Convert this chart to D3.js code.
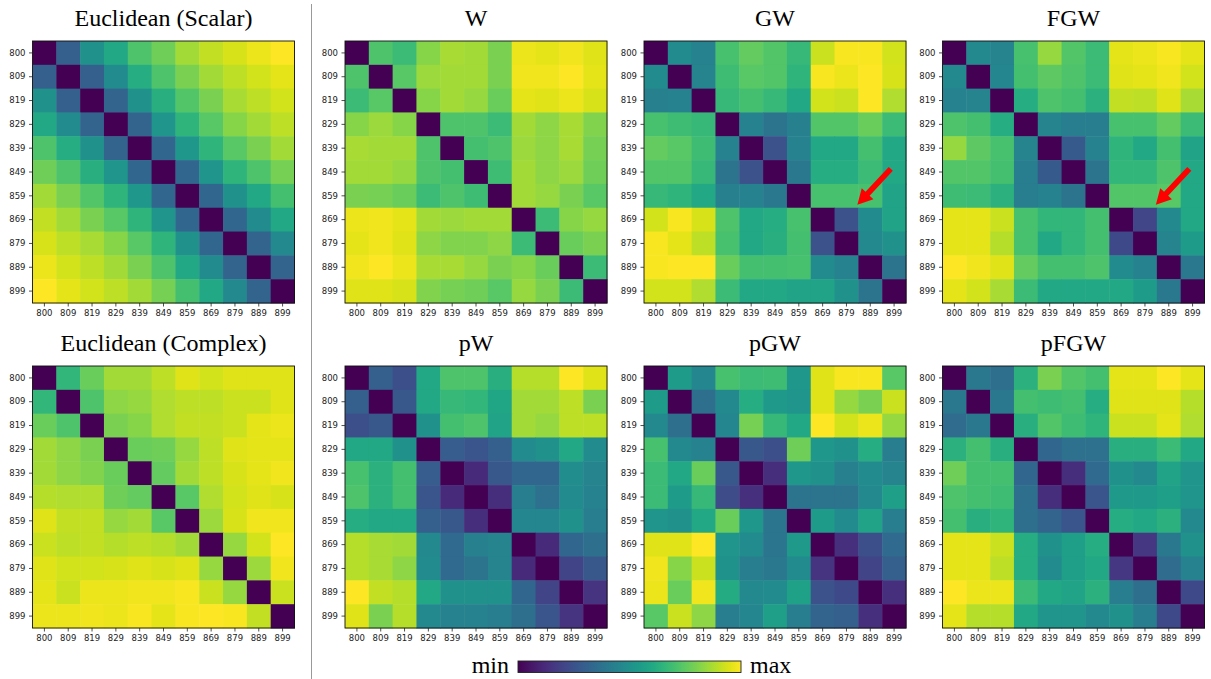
<!DOCTYPE html>
<html>
<head>
<meta charset="utf-8">
<script src="https://cdn.jsdelivr.net/npm/d3@7"></script>
<style>
  body { margin: 0; background: #fff; }
  svg { display: block; }
  .tick text { font-family: "DejaVu Sans", sans-serif; font-size: 8.5px; fill: #222; }
  .title { font-family: "Liberation Serif", "Times New Roman", serif; font-size: 24px; fill: #000; }
</style>
</head>
<body>
<div id="chart"></div>
<script>
// Pairwise distance matrices (frequencies 800..899), values read off the
// picture and normalised to 0..100 per panel (0 = min, 100 = max).
const labels = ["800", "809", "819", "829", "839", "849", "859", "869", "879", "889", "899"];

const eucScalar = [
  [0, 30, 50, 60, 72, 78, 86, 91, 94, 97, 100],
  [30, 0, 30, 48, 62, 72, 80, 86, 90, 93, 96],
  [50, 30, 0, 32, 50, 63, 73, 80, 87, 90, 93],
  [60, 48, 32, 0, 32, 52, 65, 74, 82, 86, 90],
  [72, 62, 50, 32, 0, 33, 53, 65, 74, 80, 86],
  [78, 72, 63, 52, 33, 0, 33, 52, 65, 72, 79],
  [86, 80, 73, 65, 53, 33, 0, 33, 50, 60, 70],
  [91, 86, 80, 74, 65, 52, 33, 0, 33, 48, 60],
  [94, 90, 87, 82, 74, 65, 50, 33, 0, 32, 47],
  [97, 93, 90, 86, 80, 72, 60, 48, 32, 0, 32],
  [100, 96, 93, 90, 86, 79, 70, 60, 47, 32, 0]
];

const distW = [
  [0, 72, 68, 82, 87, 86, 80, 97, 96, 98, 95],
  [72, 0, 74, 85, 86, 86, 80, 98, 98, 100, 96],
  [68, 74, 0, 82, 86, 84, 77, 96, 95, 97, 94],
  [82, 85, 82, 0, 72, 72, 68, 86, 83, 87, 81],
  [87, 86, 86, 72, 0, 70, 72, 85, 83, 87, 79],
  [86, 86, 84, 72, 70, 0, 69, 86, 83, 85, 78],
  [80, 79, 77, 68, 72, 69, 0, 86, 84, 80, 74],
  [97, 98, 96, 86, 85, 86, 86, 0, 68, 82, 84],
  [96, 98, 95, 83, 81, 81, 83, 68, 0, 77, 80],
  [98, 100, 97, 87, 87, 84, 80, 82, 77, 0, 68],
  [95, 95, 94, 81, 79, 78, 74, 84, 80, 68, 0]
];

const distGW = [
  [0, 48, 44, 71, 76, 73, 67, 92, 99, 99, 93],
  [48, 0, 45, 69, 74, 73, 65, 99, 97, 100, 94],
  [43, 44, 0, 67, 70, 67, 60, 93, 92, 100, 88],
  [71, 69, 67, 0, 44, 38, 43, 73, 73, 77, 68],
  [76, 74, 69, 44, 0, 25, 44, 60, 60, 70, 60],
  [73, 73, 67, 38, 25, 0, 40, 62, 62, 68, 60],
  [67, 65, 60, 43, 44, 40, 0, 71, 71, 71, 58],
  [93, 99, 94, 72, 60, 62, 71, 0, 25, 48, 58],
  [99, 96, 90, 71, 60, 63, 70, 25, 0, 47, 50],
  [99, 100, 100, 77, 70, 70, 71, 48, 44, 0, 38],
  [93, 93, 88, 68, 60, 60, 58, 58, 50, 38, 0]
];

const distFGW = [
  [0, 47, 45, 71, 84, 73, 68, 96, 97, 99, 96],
  [47, 0, 46, 70, 75, 72, 68, 95, 96, 98, 93],
  [44, 45, 0, 62, 72, 70, 64, 91, 90, 95, 87],
  [72, 70, 62, 0, 45, 42, 42, 71, 71, 76, 68],
  [84, 75, 71, 45, 0, 28, 44, 65, 60, 70, 58],
  [73, 73, 70, 42, 28, 0, 38, 66, 66, 72, 60],
  [69, 68, 64, 42, 44, 38, 0, 73, 73, 74, 60],
  [96, 96, 92, 71, 66, 66, 70, 0, 21, 47, 60],
  [96, 96, 89, 71, 60, 66, 70, 22, 0, 45, 55],
  [100, 98, 95, 76, 70, 70, 72, 48, 44, 0, 40],
  [96, 93, 87, 68, 60, 60, 60, 60, 55, 40, 0]
];

const eucComplex = [
  [0, 66, 77, 86, 86, 90, 95, 93, 95, 95, 95],
  [66, 0, 72, 83, 84, 88, 90, 90, 92, 92, 95],
  [77, 72, 0, 80, 82, 88, 91, 91, 92, 96, 97],
  [86, 83, 80, 0, 77, 78, 84, 90, 95, 96, 96],
  [86, 83, 81, 77, 0, 76, 86, 90, 94, 96, 98],
  [89, 88, 88, 78, 76, 0, 74, 88, 93, 95, 94],
  [95, 91, 91, 84, 86, 74, 0, 85, 94, 98, 98],
  [92, 90, 91, 89, 90, 89, 86, 0, 84, 93, 100],
  [95, 93, 93, 94, 95, 94, 95, 84, 0, 85, 98],
  [96, 92, 97, 97, 98, 98, 99, 92, 84, 0, 92],
  [97, 97, 98, 97, 99, 96, 99, 100, 99, 91, 0]
];

const distPW = [
  [0, 30, 24, 60, 72, 72, 63, 89, 89, 100, 95],
  [30, 0, 27, 60, 67, 66, 59, 86, 86, 90, 80],
  [24, 27, 0, 50, 70, 72, 58, 86, 84, 90, 90],
  [60, 60, 50, 0, 29, 26, 30, 48, 50, 60, 48],
  [71, 64, 70, 29, 0, 12, 27, 33, 33, 49, 45],
  [72, 64, 70, 26, 12, 0, 13, 42, 37, 48, 44],
  [62, 60, 60, 30, 27, 13, 0, 46, 46, 50, 42],
  [89, 87, 86, 47, 34, 43, 45, 0, 12, 33, 36],
  [89, 87, 83, 48, 34, 38, 45, 12, 0, 20, 27],
  [100, 91, 89, 60, 50, 50, 50, 33, 20, 0, 15],
  [95, 80, 89, 47, 44, 44, 42, 36, 26, 15, 0]
];

const distPGW = [
  [0, 55, 46, 71, 68, 69, 53, 95, 99, 99, 74],
  [55, 0, 36, 47, 62, 54, 52, 95, 84, 80, 92],
  [47, 36, 0, 46, 79, 67, 60, 100, 93, 97, 84],
  [71, 47, 44, 0, 27, 24, 78, 53, 50, 62, 42],
  [68, 60, 77, 27, 0, 13, 53, 50, 43, 48, 45],
  [68, 55, 67, 23, 14, 0, 38, 38, 38, 47, 56],
  [52, 50, 60, 77, 53, 39, 0, 55, 48, 58, 42],
  [95, 95, 100, 52, 48, 39, 54, 0, 14, 24, 34],
  [98, 82, 92, 51, 42, 40, 48, 15, 0, 20, 30],
  [97, 77, 98, 61, 47, 48, 57, 25, 22, 0, 14],
  [74, 92, 83, 42, 46, 56, 42, 32, 30, 14, 0]
];

const distPFGW = [
  [0, 40, 36, 64, 80, 73, 70, 96, 96, 100, 96],
  [40, 0, 40, 70, 69, 70, 62, 95, 95, 95, 89],
  [35, 40, 0, 63, 73, 69, 65, 92, 92, 96, 88],
  [64, 70, 63, 0, 33, 37, 37, 63, 63, 68, 60],
  [78, 70, 70, 33, 0, 13, 34, 50, 47, 58, 52],
  [72, 70, 69, 36, 13, 0, 26, 54, 54, 56, 52],
  [70, 63, 65, 36, 32, 26, 0, 62, 60, 64, 47],
  [96, 96, 92, 62, 50, 56, 62, 0, 16, 40, 50],
  [96, 96, 90, 62, 48, 56, 60, 16, 0, 35, 44],
  [100, 97, 97, 68, 60, 58, 64, 42, 36, 0, 22],
  [96, 89, 89, 60, 52, 52, 47, 50, 42, 22, 0]
];

const titles = ["Euclidean (Scalar)", "W", "GW", "FGW", "Euclidean (Complex)", "pW", "pGW", "pFGW"];
const matrices = [eucScalar, distW, distGW, distFGW, eucComplex, distPW, distPGW, distPFGW];
// panels that get the red arrow, pointing at the top-left corner of this cell
const arrowPanels = ["GW", "FGW"];
const arrowCell = { row: "869", col: "889" };

// layout
const width = 1211, height = 679;
const colX = [32.5, 345, 644, 942.5];
const rowY = [41, 366];
const size = 262;

const svg = d3.select("#chart").append("svg")
  .attr("width", width)
  .attr("height", height);

const x = d3.scaleBand().domain(labels).range([0, size]);
const y = d3.scaleBand().domain(labels).range([0, size]);

titles.forEach((title, k) => {
  const m = matrices[k];
  const g = svg.append("g")
    .attr("transform", `translate(${colX[k % 4]},${rowY[Math.floor(k / 4)]})`);

  const color = d3.scaleSequential(d3.interpolateViridis)
    .domain(d3.extent(m.flat()));

  const cells = [];
  m.forEach((row, i) => row.forEach((v, j) => cells.push({ r: labels[i], c: labels[j], v })));

  g.selectAll("rect.cell")
    .data(cells)
    .join("rect")
    .attr("class", "cell")
    .attr("x", d => x(d.c))
    .attr("y", d => y(d.r))
    .attr("width", x.bandwidth() + 0.5)
    .attr("height", y.bandwidth() + 0.5)
    .attr("fill", d => color(d.v));

  g.append("rect")
    .attr("width", size)
    .attr("height", size)
    .attr("fill", "none")
    .attr("stroke", "#111")
    .attr("stroke-width", 0.9);

  const xAxis = g.append("g")
    .attr("transform", `translate(0,${size})`)
    .call(d3.axisBottom(x).tickSize(3.5).tickPadding(3));
  const yAxis = g.append("g")
    .call(d3.axisLeft(y).tickSize(3.5).tickPadding(3.5));
  [xAxis, yAxis].forEach(a => {
    a.select(".domain").remove();
    a.selectAll(".tick line").attr("stroke", "#222").attr("stroke-width", 0.8);
  });

  g.append("text")
    .attr("class", "title")
    .attr("x", size / 2)
    .attr("y", -15)
    .attr("text-anchor", "middle")
    .text(title);

  if (arrowPanels.includes(title)) {
    const tx = x(arrowCell.col) - 1, ty = y(arrowCell.row) - 3;
    // block arrow pointing down-left towards the cell corner
    const len = 49, head = 15, hw = 8, sw = 2.8;
    const pts = [[0, 0], [head, -hw], [head, -sw], [len, -sw], [len, sw], [head, sw], [head, hw]];
    g.append("polygon")
      .attr("points", pts.map(p => p.join(",")).join(" "))
      .attr("fill", "#f00")
      .attr("transform", `translate(${tx},${ty}) rotate(-47)`);
  }
});

// vertical divider between Euclidean and OT panels
svg.append("line")
  .attr("x1", 311.5).attr("x2", 311.5)
  .attr("y1", 4).attr("y2", height)
  .attr("stroke", "#999")
  .attr("stroke-width", 1);

// colour bar
const cbX = 518, cbY = 661, cbW = 223, cbH = 11.5;
const grad = svg.append("defs").append("linearGradient").attr("id", "viridis");
d3.range(0, 1.0001, 0.05).forEach(t => {
  grad.append("stop").attr("offset", `${t * 100}%`).attr("stop-color", d3.interpolateViridis(t));
});
svg.append("rect")
  .attr("x", cbX).attr("y", cbY)
  .attr("width", cbW).attr("height", cbH)
  .attr("fill", "url(#viridis)")
  .attr("stroke", "#222")
  .attr("stroke-width", 0.9);
svg.append("text").attr("class", "title")
  .attr("x", cbX - 9).attr("y", cbY + cbH).attr("text-anchor", "end").text("min");
svg.append("text").attr("class", "title")
  .attr("x", cbX + cbW + 9).attr("y", cbY + cbH).attr("text-anchor", "start").text("max");
</script>
</body>
</html>
